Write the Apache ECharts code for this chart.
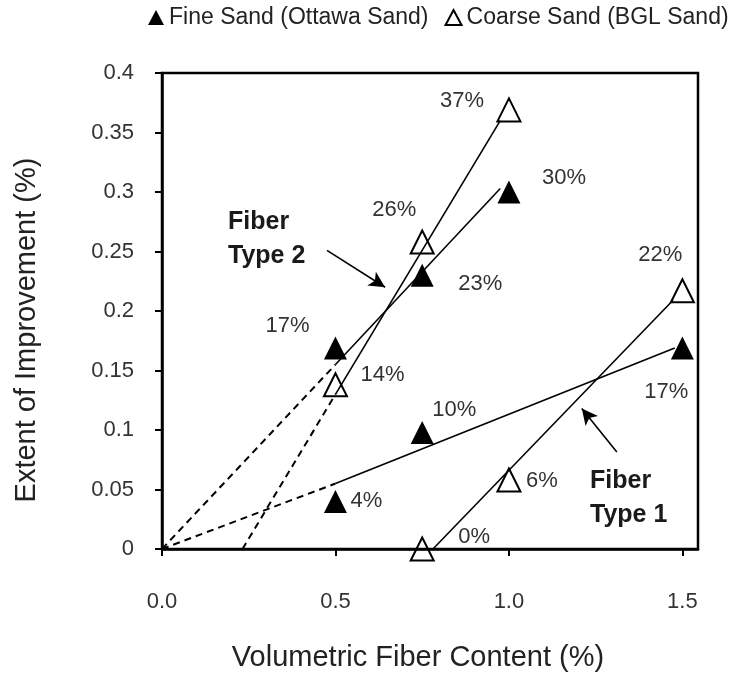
<!DOCTYPE html>
<html>
<head>
<meta charset="utf-8">
<script src="https://cdn.jsdelivr.net/npm/echarts@6/dist/echarts.min.js"></script>
<style>
html,body{margin:0;padding:0;background:#fff;}
#chart{width:739px;height:679px;}
</style>
</head>
<body>
<div id="chart"></div>
<script>
// ---- data ----
const xTickValues = [0, 0.5, 1.0, 1.5];
const fineX = [0.5, 0.75, 1.5, 0.5, 0.75, 1.0];
const fineY = [0.04, 0.098, 0.169, 0.169, 0.23, 0.30];
const fineLabels = ['4%', '10%', '17%', '17%', '23%', '30%'];
const coarseX = [0.75, 1.0, 1.5, 0.5, 0.75, 1.0];
const coarseY = [0, 0.058, 0.217, 0.138, 0.258, 0.369];
const coarseLabels = ['0%', '6%', '22%', '14%', '26%', '37%'];

// trend lines (data coordinates)
const fine1Solid = [[0.5, 0.055], [1.478, 0.169]];
const fine1Dash = [[0, 0], [0.5, 0.055]];
const coarse1Solid = [[0.781, 0], [1.473, 0.209]];
const fine2Solid = [[0.5, 0.155], [0.975, 0.303]];
const fine2Dash = [[0, 0], [0.5, 0.155]];
const coarse2Solid = [[0.5, 0.13], [0.975, 0.36]];
const coarse2Dash = [[0.232, 0], [0.5, 0.13]];

// annotation arrows (data coordinates)
const arrowType2 = [[0.4755, 0.251], [0.643, 0.220]];
const arrowType1 = [[1.311, 0.0815], [1.210, 0.118]];

// ---- label placement (pixel offsets from marker) ----
const fineLabelOffsets = [[31, 0], [32, -22], [-16, 44], [-48, -22], [58, 9], [55, -14]];
const coarseLabelOffsets = [[52, -12], [33, 1], [-22, -36], [47, -10], [-28, -32], [-47, -9]];

const FONT = '"Liberation Sans", Arial, sans-serif';

function points(xs, ys, labels, offsets) {
  return xs.map((x, i) => ({
    value: [x, ys[i]],
    label: { formatter: labels[i], offset: offsets[i] }
  }));
}

function trend(data, dashed) {
  return {
    type: 'line', data: data, symbol: 'none', silent: true, z: 2,
    lineStyle: { color: '#000', width: dashed ? 2 : 1.6, type: dashed ? [7, 5] : 'solid' }
  };
}

const labelStyle = {
  show: true, position: 'inside', align: 'center', verticalAlign: 'middle',
  fontFamily: FONT, fontSize: 22, color: '#333'
};

const chart = echarts.init(document.getElementById('chart'), null, { renderer: 'canvas' });
const option = {
  animation: false,
  backgroundColor: '#fff',
  grid: { left: 162, right: 41, top: 73, bottom: 130, show: true, borderColor: '#000', borderWidth: 2.5, containLabel: false },
  legend: {
    left: 148, top: 6, width: 591, padding: 0, itemGap: 16, itemWidth: 16, itemHeight: 15,
    data: [
      { name: 'Fine Sand (Ottawa Sand)', icon: 'triangle', itemStyle: { color: '#000', opacity: 1 } },
      { name: 'Coarse Sand (BGL Sand)', icon: 'triangle', itemStyle: { color: 'rgba(0,0,0,0)', borderColor: '#000', borderWidth: 2, opacity: 1 } }
    ],
    textStyle: { fontFamily: FONT, fontSize: 23, color: '#222' }
  },
  xAxis: {
    type: 'value', min: 0, max: 1.545,
    splitLine: { show: false },
    axisLine: { show: true, lineStyle: { color: '#000', width: 2.5 } },
    axisTick: { show: true, inside: false, length: 7, lineStyle: { color: '#000', width: 2 }, customValues: xTickValues },
    axisLabel: { customValues: xTickValues, formatter: v => v.toFixed(1), margin: 42, fontFamily: FONT, fontSize: 22, color: '#333' }
  },
  yAxis: {
    type: 'value', min: 0, max: 0.4, interval: 0.05,
    splitLine: { show: false },
    axisLine: { show: true, lineStyle: { color: '#000', width: 2.5 } },
    axisTick: { show: true, inside: false, length: 7, lineStyle: { color: '#000', width: 2 } },
    axisLabel: { margin: 28, fontFamily: FONT, fontSize: 22, color: '#333' }
  },
  series: [
    trend(fine1Dash, true), trend(fine2Dash, true), trend(coarse2Dash, true),
    trend(fine1Solid, false), trend(coarse1Solid, false), trend(fine2Solid, false),
    Object.assign(trend(coarse2Solid, false), {
      markLine: {
        silent: true, symbol: ['none', 'arrow'], symbolSize: [12, 16], animation: false,
        label: { show: false },
        lineStyle: { color: '#000', width: 1.6, type: 'solid' },
        data: [
          [{ coord: arrowType2[0] }, { coord: arrowType2[1] }],
          [{ coord: arrowType1[0] }, { coord: arrowType1[1] }]
        ]
      }
    }),
    {
      name: 'Fine Sand (Ottawa Sand)', type: 'scatter', symbol: 'triangle', symbolSize: 23, z: 5,
      itemStyle: { color: '#000', opacity: 1 },
      label: labelStyle,
      data: points(fineX, fineY, fineLabels, fineLabelOffsets)
    },
    {
      name: 'Coarse Sand (BGL Sand)', type: 'scatter', symbol: 'triangle', symbolSize: 23, z: 5,
      itemStyle: { color: 'rgba(255,255,255,0)', borderColor: '#000', borderWidth: 2, opacity: 1 },
      label: labelStyle,
      data: points(coarseX, coarseY, coarseLabels, coarseLabelOffsets)
    }
  ],
  graphic: [
    { type: 'text', left: 228, top: 205, style: { text: 'Fiber\nType 2', font: 'bold 25px ' + FONT, fill: '#1a1a1a', lineHeight: 34 } },
    { type: 'text', left: 590, top: 464, style: { text: 'Fiber\nType 1', font: 'bold 25px ' + FONT, fill: '#1a1a1a', lineHeight: 34 } },
    { type: 'text', x: 418, y: 658, style: { text: 'Volumetric Fiber Content (%)', font: '29px ' + FONT, fill: '#222', align: 'center', verticalAlign: 'middle' } },
    { type: 'text', x: 27, y: 330, rotation: Math.PI / 2, style: { text: 'Extent of Improvement (%)', font: '29px ' + FONT, fill: '#222', align: 'center', verticalAlign: 'middle' } }
  ]
};
chart.setOption(option);
</script>
</body>
</html>
